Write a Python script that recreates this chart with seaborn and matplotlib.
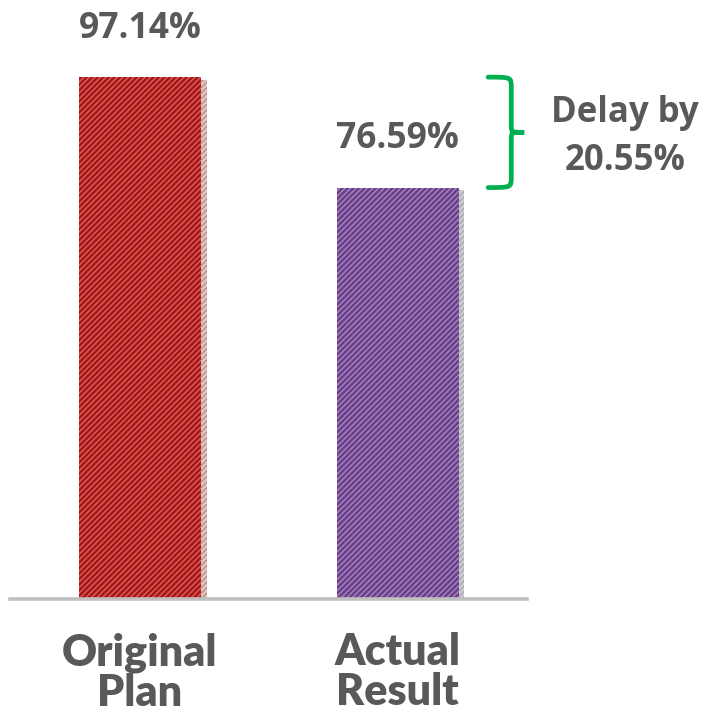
import seaborn as sns
import matplotlib.pyplot as plt
import matplotlib.patheffects as pe
from matplotlib.path import Path
from matplotlib.patches import PathPatch
import pandas as pd

# data
categories = ['Original\nPlan', 'Actual\nResult']
values = [97.14, 76.59]
bar_colors = ['#c00000', '#7030a0']
hatch_colors = ['#e2706a', '#a99bb6']
delay_text = 'Delay by\n20.55%'

sns.set_style("white")
plt.rcParams['hatch.linewidth'] = 0.8

df = pd.DataFrame({'cat': categories, 'val': values})

fig = plt.figure(figsize=(7.05, 7.25), dpi=100)
ax = fig.add_axes([0.0142, 0.1738, 0.733, 0.8262])

sns.barplot(data=df, x='cat', y='val', hue='cat', palette=bar_colors,
            width=0.473, legend=False, ax=ax)

for patch, hc in zip(ax.patches, hatch_colors):
    patch.set_hatch('//////')
    patch.set_edgecolor(hc)
    patch.set_linewidth(0)
    patch.set_path_effects([
        pe.SimplePatchShadow(offset=(4, -2), shadow_rgbFace='#808080', alpha=0.4),
        pe.Normal()])

ax.set_ylim(0, 111.5)
ax.set_xlim(-0.504, 1.5)

# value labels
for i, v in enumerate(values):
    ax.annotate(f'{v:.2f}%', (i, v), xytext=(0, 35), textcoords='offset points',
                ha='center', va='center', fontsize=25.5, fontweight='bold',
                color='#595959', family='Open Sans')

# curly bracket between the two bar tops
hi, lo = values
mid = (hi + lo) / 2
x0, x1, xt = 1.35, 1.44, 1.49
dy = 1.3
verts = [
    (x0, hi), (x1, hi), (x1, hi), (x1, hi - dy * 1.5),
    (x1, mid + dy),
    (x1, mid), (x1, mid), (xt, mid),
    (x1, mid), (x1, mid), (x1, mid - dy),
    (x1, lo + dy * 1.5),
    (x1, lo), (x1, lo), (x0, lo),
]
codes = [Path.MOVETO, Path.CURVE4, Path.CURVE4, Path.CURVE4,
         Path.LINETO,
         Path.CURVE4, Path.CURVE4, Path.CURVE4,
         Path.CURVE4, Path.CURVE4, Path.CURVE4,
         Path.LINETO,
         Path.CURVE4, Path.CURVE4, Path.CURVE4]
brace = PathPatch(Path(verts, codes), facecolor='none', edgecolor='#00b050',
                  linewidth=3.4, clip_on=False, capstyle='round')
ax.add_patch(brace)

ax.text(1.88, 86.0, delay_text, ha='center', va='center', fontsize=25,
        fontweight='bold', color='#595959', family='Open Sans',
        linespacing=1.45, clip_on=False)

# axes styling
for side in ['top', 'right', 'left']:
    ax.spines[side].set_visible(False)
ax.spines['bottom'].set_color('#c0c0c0')
ax.spines['bottom'].set_linewidth(2.6)
ax.set_yticks([])
ax.set_xlabel('')
ax.set_ylabel('')
ax.tick_params(axis='x', length=0, pad=24)
for lbl in ax.get_xticklabels():
    lbl.set_fontsize(31)
    lbl.set_fontweight('heavy')
    lbl.set_color('#595959')
    lbl.set_family('Lato')
    lbl.set_linespacing(1.0)

fig.savefig('out.png', dpi=100)
